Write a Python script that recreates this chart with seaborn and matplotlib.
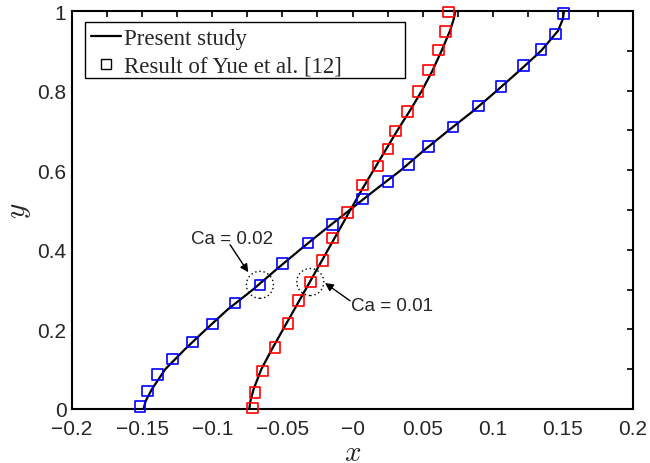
import numpy as np
import pandas as pd
import matplotlib
matplotlib.use("Agg")
import matplotlib.pyplot as plt
from matplotlib.lines import Line2D
from matplotlib.patches import Ellipse, Rectangle
from matplotlib.ticker import MultipleLocator
import seaborn as sns

# ---------------- data ----------------
# Present study (lines), x at given y
line_y = [0, 0.02, 0.05, 0.1, 0.15, 0.2, 0.25, 0.3, 0.35, 0.4, 0.45, 0.5,
          0.55, 0.6, 0.65, 0.7, 0.75, 0.8, 0.85, 0.9, 0.95, 0.98, 1.0]
line_x_ca001 = [-0.0736, -0.0728, -0.0705, -0.0650, -0.0575, -0.0495, -0.0415,
                -0.0335, -0.0255, -0.0175, -0.0095, -0.0015, 0.0065, 0.0150,
                0.0235, 0.0320, 0.0410, 0.0495, 0.0570, 0.0635, 0.0695, 0.0722, 0.0734]
line_x_ca002 = [-0.1490, -0.1475, -0.1430, -0.1335, -0.1195, -0.1045, -0.0890,
                -0.0710, -0.0545, -0.0375, -0.0200, -0.0020, 0.0160, 0.0345,
                0.0510, 0.0685, 0.0865, 0.1030, 0.1190, 0.1345, 0.1465, 0.1500, 0.1508]

# Result of Yue et al. [12] (squares)
yue_ca002_x = [-0.1515, -0.1460, -0.1389, -0.1285, -0.1139, -0.0997, -0.0838,
               -0.0660, -0.0498, -0.0317, -0.0143, 0.0073, 0.0253, 0.0398,
               0.0540, 0.0717, 0.0900, 0.1059, 0.1218, 0.1344, 0.1449, 0.1503]
yue_ca002_y = [0.007, 0.045, 0.086, 0.126, 0.168, 0.214, 0.266, 0.312, 0.365,
               0.417, 0.464, 0.528, 0.571, 0.615, 0.660, 0.709, 0.761, 0.810,
               0.863, 0.903, 0.942, 0.993]
yue_ca001_x = [-0.0712, -0.0695, -0.0640, -0.0553, -0.0460, -0.0386, -0.0301,
               -0.0215, -0.0143, -0.0034, 0.0073, 0.0182, 0.0253, 0.0308,
               0.0394, 0.0467, 0.0540, 0.0612, 0.0665, 0.0683]
yue_ca001_y = [0.002, 0.041, 0.096, 0.155, 0.215, 0.273, 0.319, 0.373, 0.430,
               0.494, 0.563, 0.611, 0.653, 0.699, 0.748, 0.798, 0.852, 0.902,
               0.949, 0.997]

x_ticks = [-0.2, -0.15, -0.1, -0.05, 0.0, 0.05, 0.1, 0.15, 0.2]
x_tick_labels = ["\u22120.2", "\u22120.15", "\u22120.1", "\u22120.05", "\u22120",
                 "0.05", "0.1", "0.15", "0.2"]
y_ticks = [0, 0.2, 0.4, 0.6, 0.8, 1.0]
y_tick_labels = ["0", "0.2", "0.4", "0.6", "0.8", "1"]

legend_labels = ["Present study", "Result of Yue et al. [12]"]

# ---------------- figure ----------------
sns.set_theme(style="white")
plt.rcParams["font.family"] = ["Liberation Sans", "DejaVu Sans"]
plt.rcParams["mathtext.fontset"] = "cm"

fig = plt.figure(figsize=(6.5, 4.64), dpi=100)
ax = fig.add_axes([72 / 650, 54 / 464, 561 / 650, 398 / 464])

df_l1 = pd.DataFrame({"x": line_x_ca001, "y": line_y})
df_l2 = pd.DataFrame({"x": line_x_ca002, "y": line_y})
sns.lineplot(data=df_l1, x="x", y="y", sort=False, estimator=None,
             color="black", lw=1.6, ax=ax, zorder=2)
sns.lineplot(data=df_l2, x="x", y="y", sort=False, estimator=None,
             color="black", lw=1.6, ax=ax, zorder=2)

sns.scatterplot(x=yue_ca001_x, y=yue_ca001_y, marker="s", s=58,
                facecolor="none", edgecolor="#ff0000", linewidth=1.2,
                ax=ax, zorder=3, clip_on=False)
sns.scatterplot(x=yue_ca002_x, y=yue_ca002_y, marker="s", s=58,
                facecolor="none", edgecolor="#0000ff", linewidth=1.2,
                ax=ax, zorder=3, clip_on=False)

ax.set_xlim(-0.2, 0.2)
ax.set_ylim(0, 1)
ax.set_xticks(x_ticks)
ax.set_xticklabels(x_tick_labels)
ax.set_yticks(y_ticks)
ax.set_yticklabels(y_tick_labels)
ax.xaxis.set_minor_locator(MultipleLocator(0.025))
ax.yaxis.set_minor_locator(MultipleLocator(0.1))
ax.tick_params(axis="both", which="both", direction="in", top=True, right=True,
               length=4.5, width=1.2, color="black")
ax.tick_params(axis="x", which="major", labelsize=15, pad=7)
ax.tick_params(axis="y", which="major", labelsize=15, pad=4)
for sp in ax.spines.values():
    sp.set_visible(True)
    sp.set_color("black")
    sp.set_linewidth(1.5)

ax.set_xlabel("$x$", fontsize=21, labelpad=0)
ax.set_ylabel("$y$", fontsize=21, labelpad=3)

# circles around highlighted points
rx = 13.5 / 1402.5 * 2
ry = 13.5 / 398 * 2
ax.add_patch(Ellipse((yue_ca002_x[7], yue_ca002_y[7]), rx, ry, fill=False,
                     ls=(0, (1, 2)), lw=1.0, color="black", zorder=4))
ax.add_patch(Ellipse((yue_ca001_x[6], yue_ca001_y[6]), rx, ry, fill=False,
                     ls=(0, (1, 2)), lw=1.0, color="black", zorder=4))

arrow = dict(arrowstyle="-|>", color="black", lw=1.0, mutation_scale=12,
             shrinkA=0, shrinkB=0)
ax.annotate("", xy=(-0.0743, 0.3435), xytext=(-0.0873, 0.4128), arrowprops=arrow)
ax.text(-0.0859, 0.4296, "Ca = 0.02", fontsize=13.5, ha="center", va="center")
ax.annotate("", xy=(-0.0196, 0.3166), xytext=(-0.0018, 0.272), arrowprops=arrow)
ax.text(0.0280, 0.2595, "Ca = 0.01", fontsize=13.5, ha="center", va="center")

# legend with Matlab-style wide frame
x0 = (85 - 72) / 561
x1 = (405 - 72) / 561
y0 = (410 - 79) / 398
y1 = (410 - 23) / 398
ax.add_patch(Rectangle((x0, y0), x1 - x0, y1 - y0, transform=ax.transAxes,
                       facecolor="white", edgecolor="black", lw=1.0, zorder=5))
handles = [Line2D([], [], color="black", lw=1.6),
           Line2D([], [], color="black", marker="s", ls="none", ms=7,
                  mfc="none", mew=1.0)]
leg = ax.legend(handles, legend_labels, loc="upper left",
                bbox_to_anchor=(x0, y1),
                borderaxespad=0, frameon=False,
                prop={"family": "Liberation Serif", "size": 16.5},
                handlelength=1.3, handletextpad=0.15, labelspacing=0.3,
                borderpad=0.25)
leg.set_zorder(6)

fig.savefig("out.png", dpi=100)
